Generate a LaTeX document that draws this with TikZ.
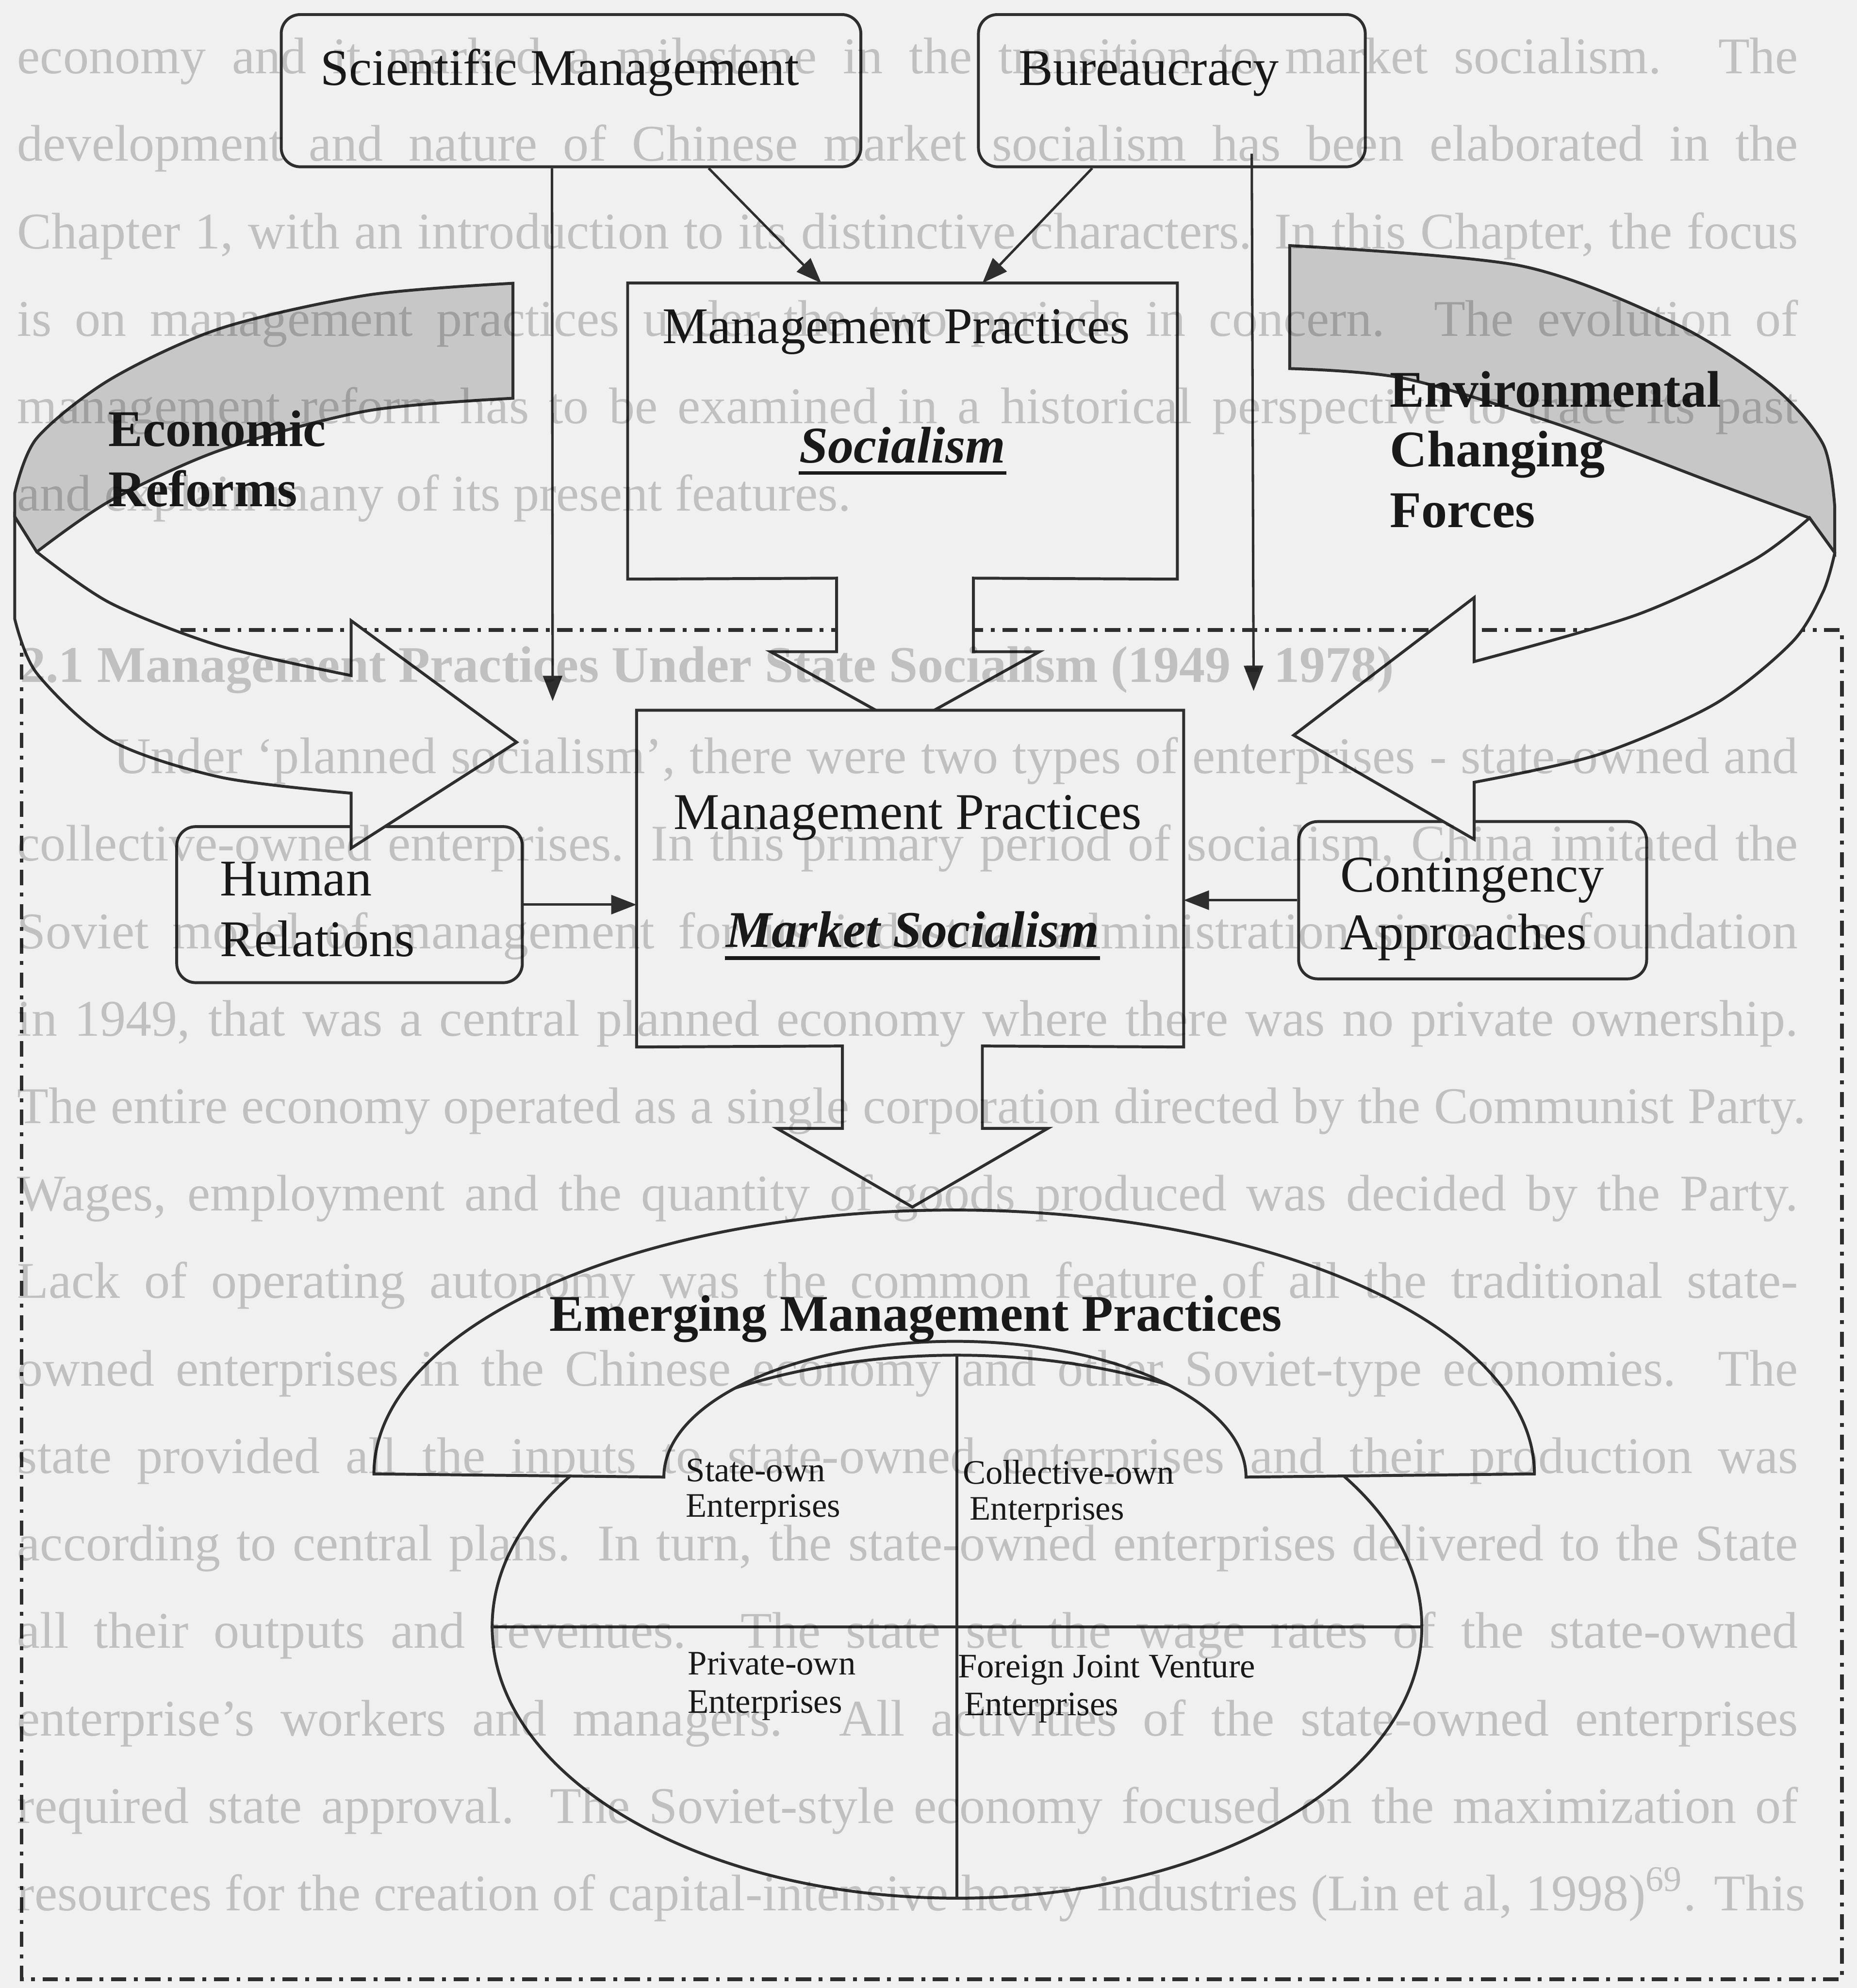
\documentclass[tikz,border=0pt]{standalone}
\usepackage{fontspec}
\setmainfont{Liberation Serif}
\usetikzlibrary{arrows.meta,shapes.geometric}
\definecolor{paper}{gray}{0.94}
\definecolor{bandgray}{gray}{0.78}
\definecolor{ink}{gray}{0.10}
\definecolor{linecol}{gray}{0.18}
\newcommand{\dgmfont}{\fontsize{11.55pt}{13.9pt}\selectfont}
\newcommand{\quadfont}{\fontsize{7.7pt}{9.2pt}\selectfont}
\begin{document}
\begin{tikzpicture}[x=0.01cm, y=-0.01cm,
  shapeline/.style={draw=linecol, line width=0.65pt},
  rbox/.style={shapeline, fill=paper, rounded corners=0.15cm, inner sep=0},
  conn/.style={draw=linecol, line width=0.55pt, -{Triangle[length=0.2cm, width=0.15cm]}},
  lbl/.style={anchor=base west, inner sep=0, text=ink, font=\dgmfont},
  blbl/.style={lbl, font=\dgmfont\bfseries},
  bilbl/.style={lbl, font=\dgmfont\bfseries\itshape},
  qlbl/.style={lbl, font=\quadfont},
  pagetext/.style={anchor=base west, inner sep=0, text=black, text opacity=0.2, font=\dgmfont},
  framedash/.style={draw=linecol, line width=0.85pt, dash pattern=on 0.12cm off 0.06cm on 0.03cm off 0.06cm}
]
% page
\fill[paper] (0,0) rectangle (1465,1568);
\useasboundingbox (0,0) rectangle (1465,1568);

% dash-dot frame around the lower half
\draw[framedash] (17,497) rectangle (1453,1561);

% top boxes
\node[rbox, minimum width=4.57cm, minimum height=1.20cm] (sci) at (450.5,71.5) {};
\node[rbox, minimum width=3.05cm, minimum height=1.20cm] (bur) at (924.5,71.5) {};

% anchors for the two block-arrow callouts
\node[inner sep=0, minimum width=4.32cm, minimum height=2.32cm] (socbox) at (712,340) {};
\node[inner sep=0, minimum width=4.30cm, minimum height=2.64cm] (mktbox) at (718,693) {};

% vertical connectors
\coordinate (sciend) at (436,553);
\coordinate (burend) at (989,545);
\draw[conn] ([xshift=-0.15cm]sci.south) -- (sciend);
\draw[conn] ([xshift=0.63cm,yshift=0.115cm]bur.south) -- (burend);

% socialism callout
\filldraw[shapeline, fill=paper] (socbox.north west) -- (socbox.north east) -- (socbox.south east)
  -- (768,456) -- (768,514) -- (820,514) -- (714,573) -- (608,514) -- (660,514) -- (660,456) -- (socbox.south west) -- cycle;
% market socialism callout
\filldraw[shapeline, fill=paper] (mktbox.north west) -- (mktbox.north east) -- (mktbox.south east)
  -- (775,825) -- (775,890) -- (826.6,890) -- (719.8,952) -- (613,890) -- (664.6,890) -- (664.6,825) -- (mktbox.south west) -- cycle;

% diagonal connectors into the socialism box
\draw[conn] ([xshift=1.085cm]sci.south) -- ([xshift=-0.64cm]socbox.north);
\draw[conn] ([xshift=-0.628cm]bur.south) -- ([xshift=0.63cm]socbox.north);

% side boxes
\node[rbox, minimum width=2.725cm, minimum height=1.23cm] (hum) at (275.75,713.5) {};
\node[rbox, minimum width=2.744cm, minimum height=1.24cm] (con) at (1161.8,710) {};
\draw[conn] (hum.east) -- (hum.east -| mktbox.west);
\draw[conn] (con.west) -- (con.west -| mktbox.east);

% left curved arrow: back band
\filldraw[shapeline, fill=bandgray]
  plot[smooth] coordinates {(404.7,223.4) (290,232.7) (174,259) (87,299.2) (29,345.6) (11.6,389)}
  -- (11.6,407.5)
  -- plot[smooth] coordinates {(29,435.3) (87,395) (174,355) (290,324) (404.7,314.1)}
  -- cycle;
% left curved arrow: front band with head
\filldraw[shapeline, fill=paper]
  plot[smooth] coordinates {(29,435.3) (87,475.6) (174,509.6) (277,532.8)}
  -- (277,489.5) -- (407.6,585.4) -- (277,669)
  -- plot[smooth] coordinates {(277,625.6) (174,613) (87,583.8) (29,531) (11.6,488)}
  -- (11.6,407.5) -- cycle;

% right curved arrow: back band
\filldraw[shapeline, fill=bandgray]
  plot[smooth] coordinates {(1017.5,193.7) (1199.6,209.6) (1322,255.5) (1398.5,304.5) (1438.3,350.4) (1447.5,400)}
  -- (1447.5,436)
  -- plot[smooth] coordinates {(1427.6,408.5) (1352.6,381) (1230,335) (1107.8,298.4) (1017.5,290.7)}
  -- cycle;
% right curved arrow: front band with head
\filldraw[shapeline, fill=paper]
  plot[smooth] coordinates {(1427.6,408.5) (1383,442) (1291,485) (1163,521.8)}
  -- (1163,471.3) -- (1020.6,579.9) -- (1163,662)
  -- plot[smooth] coordinates {(1163,617) (1260.8,595.2) (1352.6,555.4) (1413.8,506.5) (1438.3,466.7) (1447.5,436)}
  -- cycle;

% enterprise ellipse with its quadrants
\node[shapeline, ellipse, fill=paper, minimum width=7.33cm, minimum height=4.28cm, inner sep=0] (ent) at (755,1283) {};
\draw[shapeline] (ent.west) -- (ent.east);
\draw[shapeline] (ent.north) -- (ent.south);

% arch over the ellipse
\filldraw[shapeline, fill=paper] (295,1162.5) arc[start angle=180, end angle=0, x radius=4.575cm, y radius=2.08cm]
  -- (983,1165) arc[start angle=0, end angle=180, x radius=2.295cm, y radius=1.07cm] -- cycle;

% labels
\node[lbl] (scit) at (252,67) {Scientific Management};
\node[lbl] (burt) at (803,67) {Bureaucracy};
\node[lbl] (socmp) at (522,271) {Management Practices};
\node[bilbl] (soct) at (630,365) {Socialism};
\draw[ink, line width=0.85pt] ([yshift=-0.08cm]soct.base west) -- ([yshift=-0.08cm]soct.base east);
\node[lbl] (mktmp) at (531,654) {Management Practices};
\node[bilbl] (mktt) at (572,747) {Market Socialism};
\draw[ink, line width=0.85pt] ([yshift=-0.087cm]mktt.base west) -- ([yshift=-0.087cm]mktt.base east);
\node[blbl] (eco1) at (85,352) {Economic};
\node[blbl] (eco2) at (85,399.5) {Reforms};
\node[blbl] (env1) at (1096,321) {Environmental};
\node[blbl] (env2) at (1096,368) {Changing};
\node[blbl] (env3) at (1096,416) {Forces};
\node[lbl] (hum1) at (173,706.5) {Human};
\node[lbl] (hum2) at (173,754.5) {Relations};
\node[lbl] (con1) at (1057,703.5) {Contingency};
\node[lbl] (con2) at (1057,749) {Approaches};
\node[blbl] (emt) at (433,1050) {Emerging Management Practices};
\node[qlbl] (q1a) at (540.5,1168.6) {State-own};
\node[qlbl] (q1b) at (540.5,1196.6) {Enterprises};
\node[qlbl] (q2a) at (758.8,1170.6) {Collective-own};
\node[qlbl] (q2b) at (764.4,1198.6) {Enterprises};
\node[qlbl] (q3a) at (542,1321) {Private-own};
\node[qlbl] (q3b) at (542,1351) {Enterprises};
\node[qlbl] (q4a) at (755,1323) {Foreign Joint Venture};
\node[qlbl] (q4b) at (760,1353) {Enterprises};

% text of the page showing through
\node[pagetext] (p0) at (13,58) {\makebox[14.04cm][s]{economy and it marked a milestone in the transition to market socialism. The}};
\node[pagetext] (p1) at (13,127) {\makebox[14.04cm][s]{development and nature of Chinese market socialism has been elaborated in the}};
\node[pagetext] (p2) at (13,196) {\makebox[14.04cm][s]{Chapter 1, with an introduction to its distinctive characters. In this Chapter, the focus}};
\node[pagetext] (p3) at (13,265) {\makebox[14.04cm][s]{is on management practices under the two periods in concern. The evolution of}};
\node[pagetext] (p4) at (13,334) {\makebox[14.04cm][s]{management reform has to be examined in a historical perspective to trace its past}};
\node[pagetext] (p5) at (13,403) {and explain many of its present features.};
\node[pagetext, font=\dgmfont\bfseries] (p7) at (15,538) {2.1 Management Practices Under State Socialism (1949 - 1978)};
\node[pagetext] (p8) at (89,610) {\makebox[13.28cm][s]{Under ‘planned socialism’, there were two types of enterprises - state-owned and}};
\node[pagetext] (p9) at (13,679) {\makebox[14.04cm][s]{collective-owned enterprises. In this primary period of socialism, China imitated the}};
\node[pagetext] (p10) at (13,748) {\makebox[14.04cm][s]{Soviet model of management for its industrial administration since its foundation}};
\node[pagetext] (p11) at (13,817) {\makebox[14.04cm][s]{in 1949, that was a central planned economy where there was no private ownership.}};
\node[pagetext] (p12) at (13,886) {\makebox[14.1cm][s]{The entire economy operated as a single corporation directed by the Communist Party.}};
\node[pagetext] (p13) at (13,955) {\makebox[14.04cm][s]{Wages, employment and the quantity of goods produced was decided by the Party.}};
\node[pagetext] (p14) at (13,1024) {\makebox[14.04cm][s]{Lack of operating autonomy was the common feature of all the traditional state-}};
\node[pagetext] (p15) at (13,1093) {\makebox[14.04cm][s]{owned enterprises in the Chinese economy and other Soviet-type economies. The}};
\node[pagetext] (p16) at (13,1162) {\makebox[14.04cm][s]{state provided all the inputs to state-owned enterprises and their production was}};
\node[pagetext] (p17) at (13,1231) {\makebox[14.04cm][s]{according to central plans. In turn, the state-owned enterprises delivered to the State}};
\node[pagetext] (p18) at (13,1300) {\makebox[14.04cm][s]{all their outputs and revenues. The state set the wage rates of the state-owned}};
\node[pagetext] (p19) at (13,1369) {\makebox[14.04cm][s]{enterprise’s workers and managers. All activities of the state-owned enterprises}};
\node[pagetext] (p20) at (13,1438) {\makebox[14.04cm][s]{required state approval. The Soviet-style economy focused on the maximization of}};
\node[pagetext] (p21) at (13,1507) {\makebox[14.1cm][s]{resources for the creation of capital-intensive heavy industries (Lin et al, 1998)\textsuperscript{69}. This}};
\end{tikzpicture}
\end{document}
